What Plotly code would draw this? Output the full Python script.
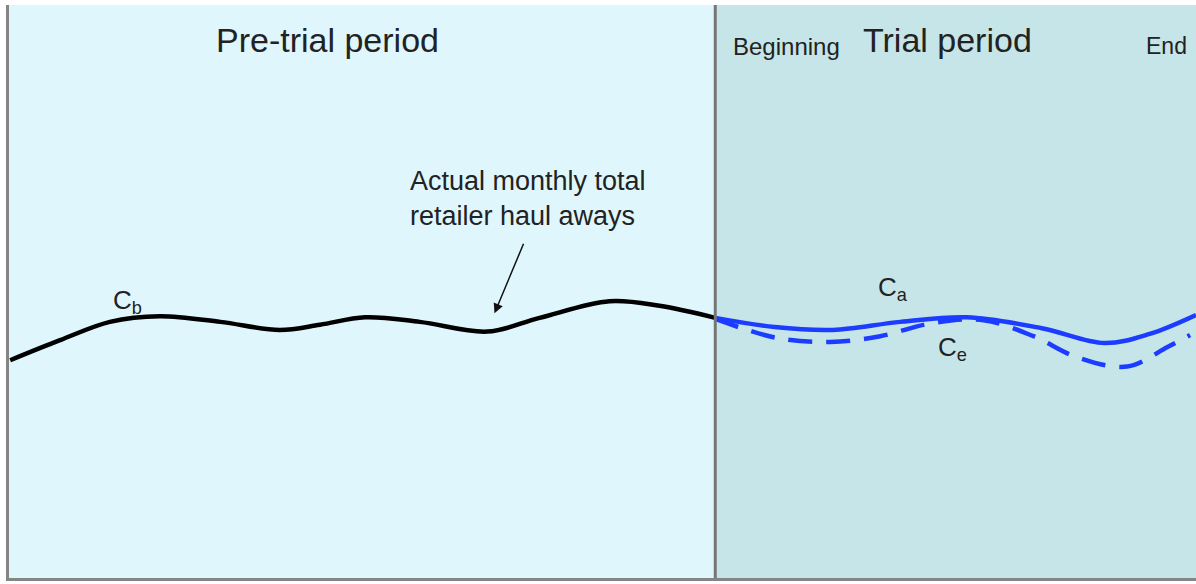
import plotly.graph_objects as go

# Data (x: time index 0..100, y: relative total haul-aways 0..100)
pre_x = [0.1, 4.3, 8.5, 12.7, 17.8, 22.8, 26.2, 30.0, 34.6, 40.3, 44.7, 50.6, 54.8, 59.5]
pre_y = [38.0, 41.5, 44.7, 45.7, 44.7, 43.3, 44.2, 45.5, 44.7, 43.0, 45.4, 48.3, 47.5, 45.4]

act_x = [59.5, 64.5, 69.4, 75.1, 80.7, 87.0, 92.3, 96.1, 100.0]
act_y = [45.4, 43.8, 43.3, 44.7, 45.5, 43.6, 41.0, 42.6, 45.9]

exp_x = [59.5, 64.7, 69.2, 73.4, 77.8, 82.1, 86.3, 89.9, 94.2, 97.6, 99.5]
exp_y = [45.2, 41.9, 41.2, 42.2, 44.5, 45.0, 42.2, 38.6, 36.9, 40.3, 42.4]

split_x = 59.5
x_range = [0, 100]
y_range = [0, 100]

fig = go.Figure()

fig.add_trace(go.Scatter(x=pre_x, y=pre_y, mode="lines",
                         line=dict(color="black", width=4.5, shape="spline", smoothing=1.0),
                         hoverinfo="skip", showlegend=False))
fig.add_trace(go.Scatter(x=exp_x, y=exp_y, mode="lines",
                         line=dict(color="#1c3cff", width=4.5, dash="24px,14px", shape="spline", smoothing=1.0),
                         hoverinfo="skip", showlegend=False))
fig.add_trace(go.Scatter(x=act_x, y=act_y, mode="lines",
                         line=dict(color="#1c3cff", width=4.5, shape="spline", smoothing=1.0),
                         hoverinfo="skip", showlegend=False))

shapes = [
    dict(type="rect", xref="x", yref="paper", x0=x_range[0], x1=split_x, y0=0, y1=1,
         fillcolor="#dff6fd", line=dict(width=0), layer="below"),
    dict(type="rect", xref="x", yref="paper", x0=split_x, x1=x_range[1], y0=0, y1=1,
         fillcolor="#c6e5e8", line=dict(width=0), layer="below"),
    dict(type="line", xref="x", yref="paper", x0=split_x, x1=split_x, y0=0, y1=1,
         line=dict(color="#767676", width=3)),
]

font = "Liberation Sans, Arial, sans-serif"
annotations = [
    dict(x=26.8, y=93.9, text="Pre-trial period", showarrow=False,
         font=dict(size=34, color="#222", family=font)),
    dict(x=79.1, y=93.9, text="Trial period", showarrow=False,
         font=dict(size=34, color="#222", family=font)),
    dict(x=65.5, y=92.8, text="Beginning", showarrow=False,
         font=dict(size=24, color="#222", family=font)),
    dict(x=97.5, y=92.8, text="End", showarrow=False,
         font=dict(size=23, color="#222", family=font)),
    dict(x=33.6, y=66.3, text="Actual monthly total<br>retailer haul aways", showarrow=False,
         xanchor="left", align="left", font=dict(size=27, color="#222", family=font)),
    dict(x=40.9, y=46.2, ax=43.4, ay=58.6, xref="x", yref="y", axref="x", ayref="y",
         text="", showarrow=True, arrowhead=2, arrowsize=1.3, arrowwidth=1.5, arrowcolor="#111"),
    dict(x=10.0, y=48.2, text="C<sub>b</sub>", showarrow=False,
         font=dict(size=26, color="#222", family=font)),
    dict(x=74.5, y=50.6, text="C<sub>a</sub>", showarrow=False,
         font=dict(size=26, color="#222", family=font)),
    dict(x=79.5, y=40.1, text="C<sub>e</sub>", showarrow=False,
         font=dict(size=26, color="#222", family=font)),
]

fig.update_layout(
    width=1196, height=584,
    margin=dict(l=9, r=0, t=5, b=6),
    paper_bgcolor="white", plot_bgcolor="white",
    shapes=shapes, annotations=annotations,
    xaxis=dict(range=x_range, showgrid=False, zeroline=False, showticklabels=False,
               ticks="", showline=True, linecolor="#858585", linewidth=3, fixedrange=True),
    yaxis=dict(range=y_range, showgrid=False, zeroline=False, showticklabels=False,
               ticks="", showline=True, linecolor="#858585", linewidth=3, fixedrange=True),
    showlegend=False,
)

fig.write_html("out.html", config={"displayModeBar": False},
               post_script="document.body.style.margin='0';")
